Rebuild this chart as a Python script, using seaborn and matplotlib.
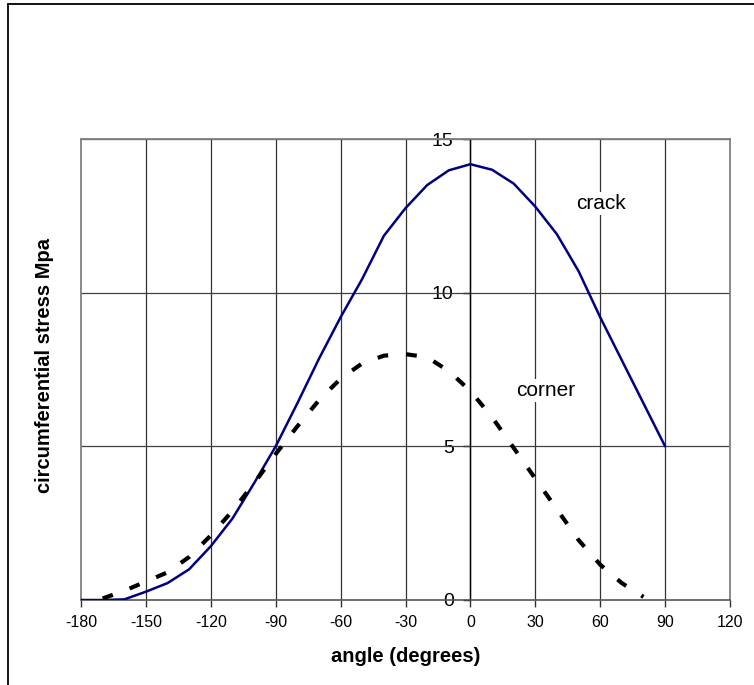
import matplotlib
matplotlib.use("Agg")
import matplotlib.pyplot as plt
import seaborn as sns
from matplotlib.lines import Line2D

# === data ===
angle_crack = [-180, -170, -160, -150, -140, -130, -120, -110, -100, -90,
               -80, -70, -60, -50, -40, -30, -20, -10, 0,
               10, 20, 30, 40, 50, 60, 70, 80, 90]
stress_crack = [0.0, 0.0, 0.02, 0.27, 0.55, 1.0, 1.75, 2.65, 3.8, 5.0,
                6.4, 7.85, 9.2, 10.45, 11.85, 12.75, 13.5, 13.98, 14.18,
                14.0, 13.55, 12.8, 11.9, 10.7, 9.2, 7.8, 6.4, 5.0]

angle_corner = [-170, -160, -150, -140, -130, -120, -110, -100, -90,
                -80, -70, -60, -50, -40, -30, -20, -10, 0,
                10, 20, 30, 40, 50, 60, 70, 80]
stress_corner = [0.05, 0.3, 0.6, 0.9, 1.4, 2.1, 2.9, 3.8, 4.75,
                 5.65, 6.5, 7.2, 7.7, 7.95, 8.0, 7.9, 7.45, 6.8,
                 5.95, 4.95, 3.95, 2.95, 1.95, 1.15, 0.55, 0.1]

x_ticks = [-180, -150, -120, -90, -60, -30, 0, 30, 60, 90, 120]
y_ticks = [0, 5, 10, 15]

sns.set_style("white")
plt.rcParams["font.family"] = ["Liberation Sans", "DejaVu Sans"]
plt.rcParams["axes.unicode_minus"] = False
plt.rcParams["text.color"] = "black"
plt.rcParams["xtick.color"] = "black"
plt.rcParams["ytick.color"] = "black"

fig = plt.figure(figsize=(7.54, 6.85), dpi=100)
ax = fig.add_axes([81 / 754, 85 / 685, 649 / 754, 461 / 685])

# === lines ===
sns.lineplot(x=angle_crack, y=stress_crack, color="#000080", lw=1.8, ax=ax, zorder=5)
sns.lineplot(x=angle_corner, y=stress_corner, color="black", lw=3.0, ax=ax,
             linestyle=(0, (2.6, 4.3)), zorder=5)

ax.set_xlim(-180, 120)
ax.set_ylim(0, 15)
ax.set_xticks(x_ticks)
ax.set_yticks(y_ticks)
ax.set_xlabel("")
ax.set_ylabel("")

# === grid and frame ===
for xv in x_ticks[1:-1]:
    ax.axvline(xv, color="#333333", lw=0.9, zorder=1)
for yv in y_ticks[1:]:
    ax.axhline(yv, color="#404040", lw=0.9, zorder=1)
ax.axvline(-180, color="#808080", lw=1.3, zorder=2, clip_on=False)

ax.spines["left"].set_position(("data", 0))
ax.spines["left"].set_color("black")
ax.spines["left"].set_linewidth(1.0)
ax.spines["bottom"].set_color("#555555")
ax.spines["bottom"].set_linewidth(1.2)
for s in ("top", "right"):
    ax.spines[s].set_visible(True)
    ax.spines[s].set_color("#808080")
    ax.spines[s].set_linewidth(1.3)

ax.tick_params(axis="x", direction="out", length=5, width=1, color="#333333",
               labelsize=11.5, labelcolor="black", pad=6, bottom=True)
ax.tick_params(axis="y", direction="out", length=5, width=1, color="black",
               labelsize=14, labelcolor="black", pad=7, left=True)

# === in-plot labels ===
box = dict(facecolor="white", edgecolor="none", pad=1.5)
ax.text(60.4, 12.9, "crack", fontsize=15, color="black", ha="center", va="center",
        bbox=box, zorder=3)
ax.text(34.7, 6.83, "corner", fontsize=15, color="black", ha="center", va="center",
        bbox=box, zorder=3)

# === axis titles ===
fig.text(406 / 754, 1 - 657 / 685, "angle (degrees)", fontsize=14.5,
         fontweight="bold", color="black", ha="center", va="center")
fig.text(45 / 754, 1 - 366 / 685, "circumferential stress Mpa", fontsize=14.5,
         fontweight="bold", color="black", ha="center", va="center", rotation=90)

# === outer border (left and top only) ===
fig.add_artist(Line2D([7.5 / 754, 7.5 / 754], [0, 1 - 3.5 / 685],
                      transform=fig.transFigure, color="black", lw=1.3))
fig.add_artist(Line2D([7.5 / 754, 1], [1 - 3.5 / 685, 1 - 3.5 / 685],
                      transform=fig.transFigure, color="black", lw=1.3))

fig.savefig("out.png", dpi=100)
